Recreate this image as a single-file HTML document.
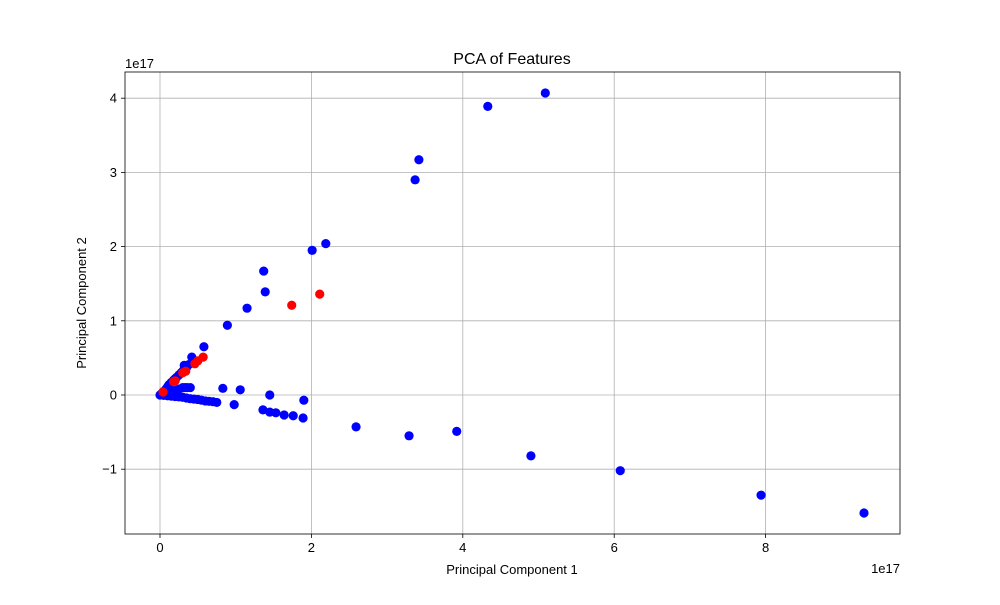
<!DOCTYPE html>
<html><head><meta charset="utf-8"><style>body{margin:0;background:#fff}svg text{font-family:"Liberation Sans","DejaVu Sans",sans-serif;font-size:13px;fill:#000}</style></head>
<body>
<svg id="chart" width="1000" height="600" xmlns="http://www.w3.org/2000/svg">
<rect width="1000" height="600" fill="#fff"/>
<g id="grid"></g><g id="pts"></g><g id="axes"></g>
</svg>
<script>
const blueX=[5.09,4.33,3.42,3.37,2.19,2.01,1.37,1.39,1.15,0.89,0.58,0.42,1.45,0.83,1.06,1.90,0.98,1.36,1.45,1.53,1.64,1.76,1.89,2.59,3.29,3.92,4.90,6.08,7.94,9.30,0,0.03,0.05,0.08,0.1,0.12,0.15,0.18,0.2,0.22,0.25,0.28,0.3,0.32,0.35,0.32,0.38,0.3,0.33,0.36,0.4,0.05,0.1,0.15,0.2,0.25,0.3,0.35,0.4,0.45,0.5,0.55,0.6,0.65,0.7,0.75,0.12,0.2,0.25];
const blueY=[4.07,3.89,3.17,2.90,2.04,1.95,1.67,1.39,1.17,0.94,0.65,0.51,0.00,0.09,0.07,-0.07,-0.13,-0.20,-0.23,-0.24,-0.27,-0.28,-0.31,-0.43,-0.55,-0.49,-0.82,-1.02,-1.35,-1.59,0,0.03,0.05,0.08,0.11,0.14,0.17,0.2,0.22,0.24,0.27,0.3,0.32,0.35,0.37,0.4,0.41,0.1,0.1,0.1,0.1,-0.005,-0.01,-0.015,-0.02,-0.025,-0.03,-0.04,-0.05,-0.055,-0.06,-0.07,-0.08,-0.085,-0.09,-0.1,0.05,0.06,0.08];
const redX=[1.74,2.11,0.57,0.5,0.46,0.34,0.3,0.2,0.18,0.04];
const redY=[1.21,1.36,0.51,0.46,0.42,0.32,0.30,0.19,0.18,0.04];
const xTicks=[0,2,4,6,8];
const yTicks=[-1,0,1,2,3,4];
const yTickLabels=["\u22121","0","1","2","3","4"];
const L=125,R=900,T=72,B=534;
const sx=v=>160+v*75.7, sy=v=>395-v*74.2;
const NS="http://www.w3.org/2000/svg";
function mk(tag,attrs,parent,txt){const e=document.createElementNS(NS,tag);for(const k in attrs)e.setAttribute(k,attrs[k]);if(txt!==undefined)e.textContent=txt;parent.appendChild(e);return e;}
const grid=document.getElementById('grid'),pts=document.getElementById('pts'),axes=document.getElementById('axes');
xTicks.forEach(t=>{const x=sx(t);
 const g=mk('line',{x1:x,x2:x,y1:T,y2:B,stroke:'#b0b0b0','stroke-width':0.8},grid);
 
 mk('line',{x1:x,x2:x,y1:B,y2:B+4,stroke:'#000','stroke-width':0.8},axes);
 const tx=mk('text',{x:x,y:B+18,'text-anchor':'middle'},axes,String(t));
 });
yTicks.forEach((t,i)=>{const y=sy(t);
 const g=mk('line',{x1:L,x2:R,y1:y,y2:y,stroke:'#b0b0b0','stroke-width':0.8},grid);
 
 mk('line',{x1:L-4,x2:L,y1:y,y2:y,stroke:'#000','stroke-width':0.8},axes);
 const tx=mk('text',{x:L-8,y:y+4.5,'text-anchor':'end'},axes,yTickLabels[i]);
 });
blueX.forEach((v,i)=>{const c=mk('circle',{cx:sx(v),cy:sy(blueY[i]),r:4.6,fill:'#0000ff'},pts);
 });
redX.forEach((v,i)=>{const c=mk('circle',{cx:sx(v),cy:sy(redY[i]),r:4.6,fill:'#ff0000'},pts);
 });
const fr=mk('rect',{x:L,y:T,width:R-L,height:B-T,fill:'none',stroke:'#000','stroke-width':0.8},axes);

let e;
e=mk('text',{x:512,y:64,'text-anchor':'middle'},axes,'PCA of Features');e.setAttribute('style','font-size:16px');

e=mk('text',{x:512,y:574,'text-anchor':'middle'},axes,'Principal Component 1');

e=mk('text',{x:86,y:303,'text-anchor':'middle',transform:'rotate(-90 86 303)'},axes,'Principal Component 2');

e=mk('text',{x:125,y:68},axes,'1e17');

e=mk('text',{x:900,y:573,'text-anchor':'end'},axes,'1e17');

</script>
</body></html>
